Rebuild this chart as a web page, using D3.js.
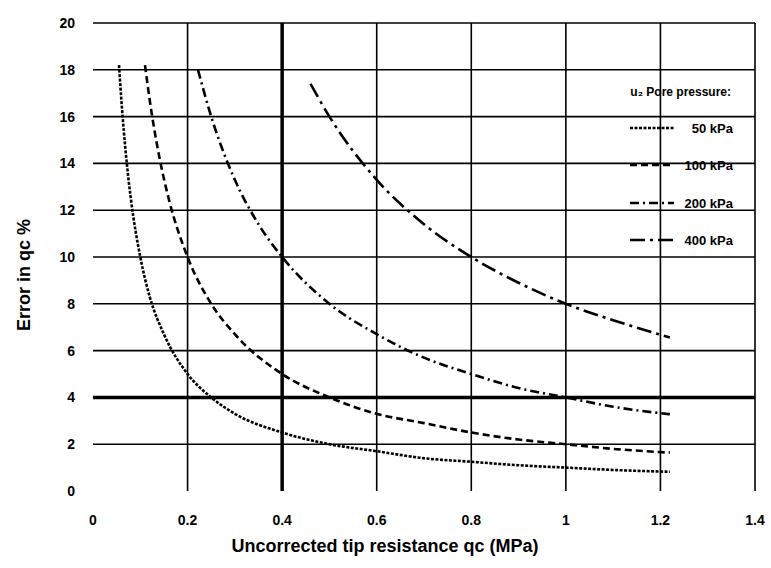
<!DOCTYPE html>
<html>
<head>
<meta charset="utf-8">
<script src="https://cdn.jsdelivr.net/npm/d3@7"></script>
<style>
  body { margin: 0; background: #fff; }
  text { font-family: "Liberation Sans", Arial, sans-serif; font-weight: bold; fill: #000; }
</style>
</head>
<body>
<script>
// Values
const xTicks = [0, 0.2, 0.4, 0.6, 0.8, 1, 1.2, 1.4];
const xTickLabels = ["0", "0.2", "0.4", "0.6", "0.8", "1", "1.2", "1.4"];
const yTicks = [0, 2, 4, 6, 8, 10, 12, 14, 16, 18, 20];

const qc50 = [0.055, 0.06, 0.07, 0.08, 0.1, 0.12, 0.15, 0.2, 0.25, 0.3, 0.4, 0.5, 0.6, 0.7, 0.8, 0.9, 1.0, 1.1, 1.22];
const err50 = [18.2, 16.7, 14.3, 12.5, 10, 8.3, 6.7, 5, 4, 3.3, 2.5, 2, 1.7, 1.4, 1.25, 1.1, 1, 0.9, 0.82];

const qc100 = [0.11, 0.12, 0.14, 0.16, 0.2, 0.25, 0.3, 0.4, 0.5, 0.6, 0.7, 0.8, 0.9, 1.0, 1.1, 1.22];
const err100 = [18.2, 16.7, 14.3, 12.5, 10, 8, 6.7, 5, 4, 3.3, 2.9, 2.5, 2.2, 2, 1.8, 1.64];

const qc200 = [0.222, 0.25, 0.3, 0.35, 0.4, 0.5, 0.6, 0.7, 0.8, 0.9, 1.0, 1.1, 1.22];
const err200 = [18, 16, 13.3, 11.4, 10, 8, 6.7, 5.7, 5, 4.4, 4, 3.6, 3.28];

const qc400 = [0.46, 0.5, 0.6, 0.7, 0.8, 0.9, 1.0, 1.1, 1.22];
const err400 = [17.4, 16, 13.3, 11.4, 10, 8.9, 8, 7.3, 6.56];

const seriesNames = ["50 kPa", "100 kPa", "200 kPa", "400 kPa"];
const seriesX = [qc50, qc100, qc200, qc400];
const seriesY = [err50, err100, err200, err400];
const dashes = ["3,1.5", "7,4", "9,4,2,4", "15,5,3,5"];

const width = 771, height = 568;
const svg = d3.select("body").append("svg")
  .attr("width", width)
  .attr("height", height);

const x = d3.scaleLinear().domain([0, 1.4]).range([93, 755]);
const y = d3.scaleLinear().domain([0, 20]).range([491, 23]);

// Grid lines (no line at zero on either axis)
svg.selectAll("line.hgrid")
  .data(yTicks.filter(d => d > 0))
  .enter().append("line")
  .attr("x1", x(0)).attr("x2", x(1.4))
  .attr("y1", d => y(d)).attr("y2", d => y(d))
  .attr("stroke", "#000")
  .attr("stroke-width", d => d === 4 ? 3.5 : 1.6);

svg.selectAll("line.vgrid")
  .data(xTicks.filter(d => d > 0))
  .enter().append("line")
  .attr("x1", d => x(d)).attr("x2", d => x(d))
  .attr("y1", y(0)).attr("y2", y(20))
  .attr("stroke", "#000")
  .attr("stroke-width", d => d === 0.4 ? 3.5 : 1.6);

// Tick labels
svg.selectAll("text.ytick")
  .data(yTicks)
  .enter().append("text")
  .attr("x", 75)
  .attr("y", d => y(d))
  .attr("dy", "0.35em")
  .attr("text-anchor", "end")
  .attr("font-size", 14)
  .text(d => d);

svg.selectAll("text.xtick")
  .data(xTicks)
  .enter().append("text")
  .attr("x", d => x(d))
  .attr("y", 525)
  .attr("text-anchor", "middle")
  .attr("font-size", 14)
  .text((d, i) => xTickLabels[i]);

// Axis titles
svg.append("text")
  .attr("x", 385).attr("y", 552)
  .attr("text-anchor", "middle")
  .attr("font-size", 18)
  .text("Uncorrected tip resistance qc (MPa)");

svg.append("text")
  .attr("transform", "translate(30,275) rotate(-90)")
  .attr("text-anchor", "middle")
  .attr("font-size", 18)
  .text("Error in qc %");

// Curves
const line = d3.line()
  .x(d => x(d[0]))
  .y(d => y(d[1]))
  .curve(d3.curveMonotoneX);

for (let i = 0; i < seriesNames.length; ++i) {
  const pts = seriesX[i].map((v, j) => [v, seriesY[i][j]]);
  svg.append("path")
    .attr("d", line(pts))
    .attr("fill", "none")
    .attr("stroke", "#000")
    .attr("stroke-width", 2.6)
    .attr("stroke-dasharray", dashes[i]);
}

// Legend
svg.append("text")
  .attr("x", 731).attr("y", 92)
  .attr("dy", "0.35em")
  .attr("text-anchor", "end")
  .attr("font-size", 12)
  .text("u\u2082 Pore pressure:");

const legY = [128, 165, 203, 240];
for (let i = 0; i < seriesNames.length; ++i) {
  svg.append("line")
    .attr("x1", 630).attr("x2", 674)
    .attr("y1", legY[i]).attr("y2", legY[i])
    .attr("stroke", "#000")
    .attr("stroke-width", 2.6)
    .attr("stroke-dasharray", dashes[i]);
  svg.append("text")
    .attr("x", 733).attr("y", legY[i])
    .attr("dy", "0.35em")
    .attr("text-anchor", "end")
    .attr("font-size", 13)
    .text(seriesNames[i]);
}
</script>
</body>
</html>
